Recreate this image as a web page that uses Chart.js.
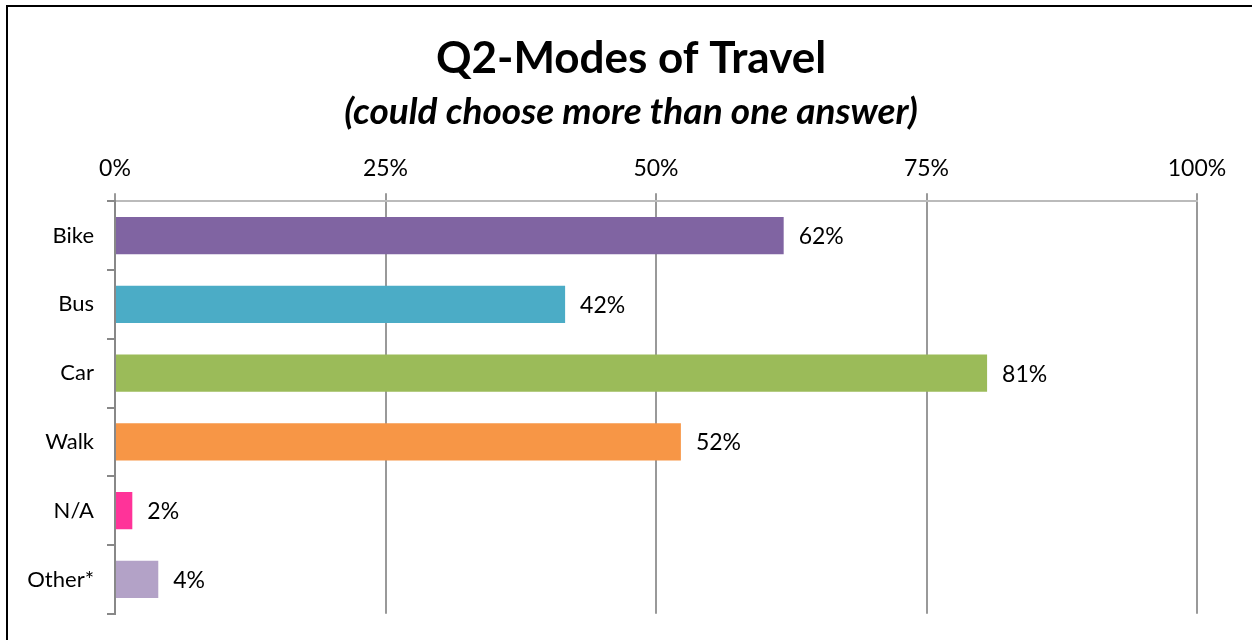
<!DOCTYPE html>
<html>
<head>
<meta charset="utf-8">
<script src="https://cdn.jsdelivr.net/npm/chart.js@4"></script>
<style>
  html, body { margin: 0; padding: 0; background: #fff; }
  #wrap { position: relative; width: 1252px; height: 640px; overflow: hidden; }
  #frame { position: absolute; left: 6px; top: 5px; right: -10px; bottom: -10px; border-left: 2px solid #000; border-top: 2px solid #000; pointer-events: none; }
  canvas { position: absolute; left: 0; top: 0; }
</style>
</head>
<body>
<div id="wrap">
  <canvas id="modos" width="1252" height="640"></canvas>
  <div id="frame"></div>
</div>
<script>
const modos = ['Bike', 'Bus', 'Car', 'Walk', 'N/A', 'Other*'];
const percentuais = [61.8, 41.6, 80.6, 52.3, 1.6, 4.0];
const cores = ['#8064A2', '#4BACC6', '#9BBB59', '#F79646', '#FF3399', '#B3A2C7'];
const ticksX = [0, 25, 50, 75, 100];

const fonte = 'Lato, "Open Sans", sans-serif';

// rótulos no fim de cada barra
const rotulos = {
  id: 'rotulos',
  afterDatasetsDraw(chart) {
    const c = chart.ctx;
    const meta = chart.getDatasetMeta(0);
    c.save();
    c.font = '23px ' + fonte;
    c.fillStyle = '#000';
    c.textBaseline = 'middle';
    c.textAlign = 'left';
    meta.data.forEach((bar, i) => {
      c.fillText(Math.round(percentuais[i]) + '%', bar.x + 15, bar.y + 1);
    });
    c.restore();
  }
};

const ctx = document.getElementById('modos').getContext('2d');

new Chart(ctx, {
  type: 'bar',
  data: {
    labels: modos,
    datasets: [{
      label: 'Q2',
      data: percentuais,
      backgroundColor: cores,
      borderWidth: 0,
      categoryPercentage: 1,
      barPercentage: 0.54
    }]
  },
  options: {
    indexAxis: 'y',
    responsive: false,
    animation: false,
    layout: { padding: { left: 10, right: 0, top: 32, bottom: 26 } },
    scales: {
      x: {
        position: 'top',
        min: 0,
        max: 100,
        afterBuildTicks(s) { s.ticks = ticksX.map(v => ({ value: v })); },
        afterFit(s) { s.height = 59; s.paddingRight = 55; },
        ticks: {
          callback: v => v + '%',
          color: '#000',
          font: { family: fonte, size: 23 },
          padding: 11
        },
        grid: { color: '#999', lineWidth: 2, tickLength: 8 },
        border: { color: '#bbb', width: 2 }
      },
      y: {
        afterFit(s) { s.width = 105; },
        ticks: {
          color: '#000',
          font: { family: fonte, size: 22 },
          padding: 13
        },
        grid: { drawOnChartArea: false, color: '#888', lineWidth: 2, tickLength: 8 },
        border: { color: '#888', width: 2 }
      }
    },
    plugins: {
      legend: { display: false },
      tooltip: { enabled: false },
      title: {
        display: true,
        text: 'Q2-Modes of Travel',
        color: '#000',
        font: { family: fonte, size: 44, weight: 'bold' },
        padding: { top: 0, bottom: 5 }
      },
      subtitle: {
        display: true,
        text: '(could choose more than one answer)',
        color: '#000',
        font: { family: fonte, size: 37, weight: 'bold', style: 'italic' },
        padding: { top: 0, bottom: 8 }
      }
    }
  },
  plugins: [rotulos]
});
</script>
</body>
</html>
